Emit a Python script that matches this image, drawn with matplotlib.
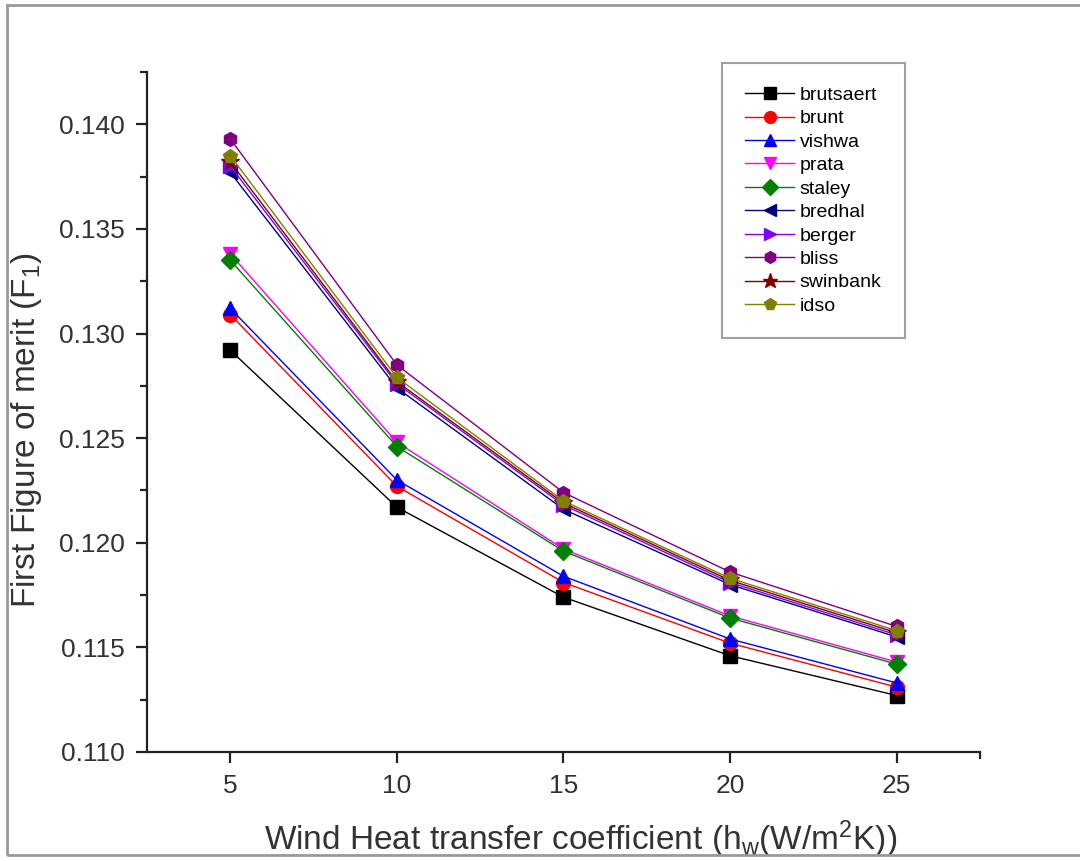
import matplotlib
matplotlib.use("Agg")
import matplotlib.pyplot as plt
from matplotlib.patches import Rectangle

plt.rcParams['font.family'] = ['Liberation Sans', 'DejaVu Sans']
plt.rcParams['mathtext.default'] = 'regular'

# wind heat transfer coefficient
hw = [5, 10, 15, 20, 25]

brutsaert = [0.1292, 0.1217, 0.1174, 0.1146, 0.1127]
brunt = [0.1309, 0.1227, 0.1181, 0.1152, 0.1131]
vishwa = [0.1312, 0.1230, 0.1184, 0.1154, 0.1133]
prata = [0.1338, 0.1248, 0.1197, 0.1165, 0.1143]
staley = [0.1335, 0.1246, 0.1196, 0.1164, 0.1142]
bredhal = [0.1377, 0.1274, 0.1216, 0.1180, 0.1155]
berger = [0.1380, 0.1276, 0.1218, 0.1181, 0.1156]
bliss = [0.1393, 0.1285, 0.1224, 0.1186, 0.1160]
swinbank = [0.1382, 0.1277, 0.1219, 0.1182, 0.1157]
idso = [0.1385, 0.1279, 0.1220, 0.1183, 0.1158]

series = [
    ("brutsaert", brutsaert, "#000000", "s"),
    ("brunt", brunt, "#ff0000", "o"),
    ("vishwa", vishwa, "#0000ff", "^"),
    ("prata", prata, "#ff00ff", "v"),
    ("staley", staley, "#008000", "D"),
    ("bredhal", bredhal, "#000080", "<"),
    ("berger", berger, "#8000ff", ">"),
    ("bliss", bliss, "#800080", "h"),
    ("swinbank", swinbank, "#800000", "*"),
    ("idso", idso, "#808000", "p"),
]

fig = plt.figure(figsize=(10.8, 8.61), dpi=100)
ax = fig.add_axes([0.1361, 0.1266, 0.7713, 0.7898])

for nombre, valores, color, marca in series:
    ms = 10
    if marca == "D":
        ms = 9
    if marca == "*":
        ms = 13
    ax.plot(hw, valores, color=color, lw=1, marker=marca, markersize=ms,
            markeredgecolor=color, label=nombre)

ax.set_xlim(2.5, 27.5)
ax.set_ylim(0.110, 0.1425)
ax.set_xticks(hw)
ax.set_xticks([27.5], minor=True)
ax.set_yticks([0.110, 0.115, 0.120, 0.125, 0.130, 0.135, 0.140])
ax.set_yticks([0.1125, 0.1175, 0.1225, 0.1275, 0.1325, 0.1375, 0.1425], minor=True)
ax.set_yticklabels(["0.110", "0.115", "0.120", "0.125", "0.130", "0.135", "0.140"])

ax.spines['top'].set_visible(False)
ax.spines['right'].set_visible(False)
for s in ['left', 'bottom']:
    ax.spines[s].set_linewidth(1.6)
    ax.spines[s].set_color('#222222')

ax.tick_params(which='major', direction='out', length=8, width=1.6,
               labelsize=19, colors='#222222', labelcolor='#333333', pad=8)
ax.tick_params(which='minor', direction='out', length=5, width=1.6, colors='#222222')

ax.set_xlabel("Wind Heat transfer coefficient (h$_w$(W/m$^2$K))", fontsize=24,
              color='#333333')
ax.set_ylabel("First Figure of merit (F$_1$)", fontsize=24, color='#333333')
ax.xaxis.set_label_coords(0.52, -0.098)
ax.yaxis.set_label_coords(-0.124, 0.4735)

leg = ax.legend(loc='upper left', bbox_to_anchor=(722/1080, 1 - 63/861),
                bbox_transform=fig.transFigure, fontsize=14, frameon=True,
                fancybox=False, edgecolor='#888888', borderaxespad=0,
                labelspacing=0.3, handlelength=2.5, handletextpad=0.3,
                borderpad=1.2, markerscale=0.85)
leg.get_frame().set_linewidth(1.5)

# marco gris alrededor de la figura
fig.patches.append(Rectangle((7/1080, 1 - 855/861), 1.1, 850/861,
                             transform=fig.transFigure, fill=False,
                             edgecolor='#999999', lw=2))

fig.savefig("out.png", dpi=100)
